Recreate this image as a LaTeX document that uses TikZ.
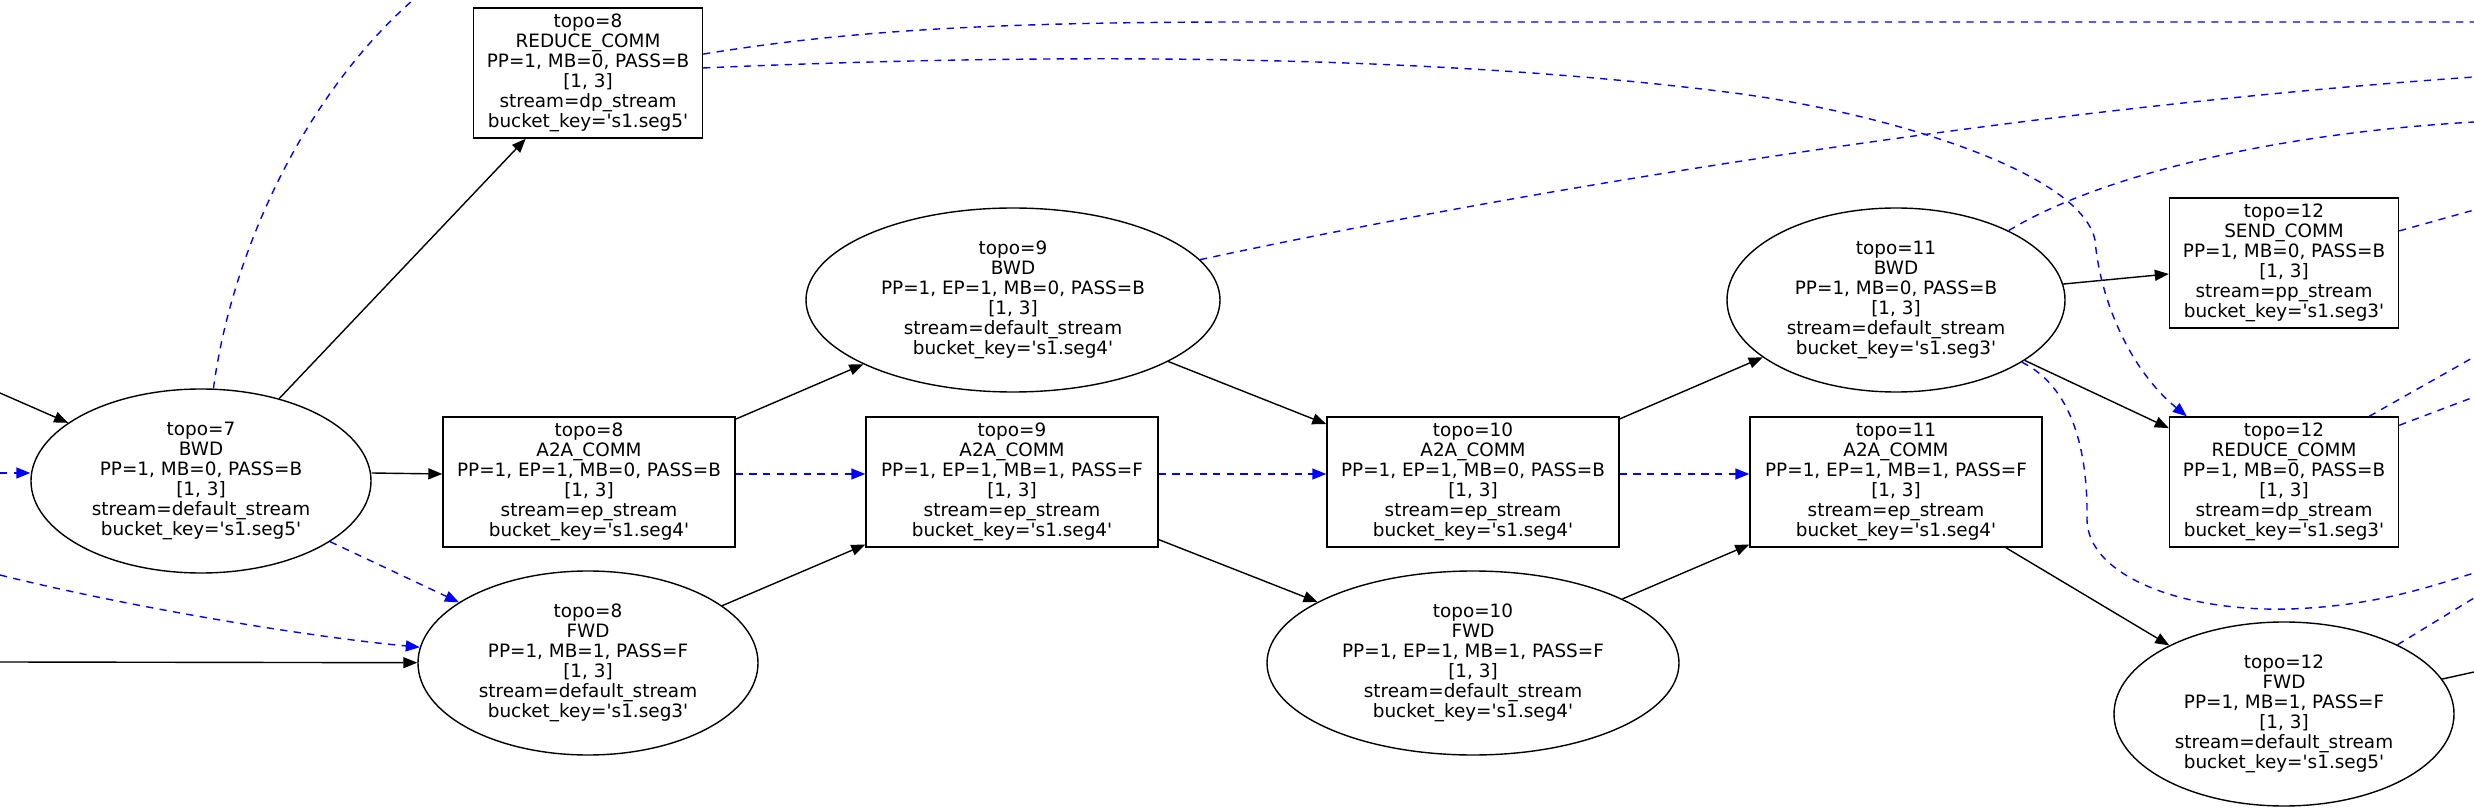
\documentclass[tikz,border=0pt]{standalone}
\usepackage{fontspec}
\setmainfont{DejaVu Sans}
\usetikzlibrary{arrows.meta,shapes.geometric}
\def\q{\textquotesingle}

\begin{document}
\begin{tikzpicture}[x=0.5pt,y=-0.5pt,
    every node/.style={font=\fontsize{9.2}{10}\selectfont,align=center,line width=0.7pt},
    op/.style={draw,ellipse,inner sep=0pt,minimum width=170pt,minimum height=92pt},
    comm/.style={draw,rectangle,inner sep=1pt,minimum width=146pt,minimum height=65pt},
    flow/.style={line width=0.7pt,-{Triangle[length=7pt,width=5.5pt]}},
    flowfree/.style={flow,-},
    dep/.style={flow,blue,dash pattern=on 3.6pt off 3.2pt},
    depfree/.style={dep,-}]
    \useasboundingbox (0,0) rectangle (2474,812);

    % nodes
    \node[op] (b7) at (201,481) {topo=7\\BWD\\PP=1, MB=0, PASS=B\\{[1, 3]}\\stream=default\_stream\\bucket\_key=\q s1.seg5\q};
    \node[comm,minimum width=114.5pt] (r8) at (588,73) {topo=8\\REDUCE\_COMM\\PP=1, MB=0, PASS=B\\{[1, 3]}\\stream=dp\_stream\\bucket\_key=\q s1.seg5\q};
    \node[comm] (a8) at (589,482) {topo=8\\A2A\_COMM\\PP=1, EP=1, MB=0, PASS=B\\{[1, 3]}\\stream=ep\_stream\\bucket\_key=\q s1.seg4\q};
    \node[op] (f8) at (588,663) {topo=8\\FWD\\PP=1, MB=1, PASS=F\\{[1, 3]}\\stream=default\_stream\\bucket\_key=\q s1.seg3\q};
    \node[op,minimum width=207pt] (b9) at (1013,300) {topo=9\\BWD\\PP=1, EP=1, MB=0, PASS=B\\{[1, 3]}\\stream=default\_stream\\bucket\_key=\q s1.seg4\q};
    \node[comm] (a9) at (1012,482) {topo=9\\A2A\_COMM\\PP=1, EP=1, MB=1, PASS=F\\{[1, 3]}\\stream=ep\_stream\\bucket\_key=\q s1.seg4\q};
    \node[comm] (a10) at (1473,482) {topo=10\\A2A\_COMM\\PP=1, EP=1, MB=0, PASS=B\\{[1, 3]}\\stream=ep\_stream\\bucket\_key=\q s1.seg4\q};
    \node[op,minimum width=206pt] (f10) at (1473,663) {topo=10\\FWD\\PP=1, EP=1, MB=1, PASS=F\\{[1, 3]}\\stream=default\_stream\\bucket\_key=\q s1.seg4\q};
    \node[op,minimum width=169pt] (b11) at (1896,300) {topo=11\\BWD\\PP=1, MB=0, PASS=B\\{[1, 3]}\\stream=default\_stream\\bucket\_key=\q s1.seg3\q};
    \node[comm] (a11) at (1896,482) {topo=11\\A2A\_COMM\\PP=1, EP=1, MB=1, PASS=F\\{[1, 3]}\\stream=ep\_stream\\bucket\_key=\q s1.seg4\q};
    \node[comm,minimum width=114.5pt] (s12) at (2284,263) {topo=12\\SEND\_COMM\\PP=1, MB=0, PASS=B\\{[1, 3]}\\stream=pp\_stream\\bucket\_key=\q s1.seg3\q};
    \node[comm,minimum width=114.5pt] (r12) at (2284,482) {topo=12\\REDUCE\_COMM\\PP=1, MB=0, PASS=B\\{[1, 3]}\\stream=dp\_stream\\bucket\_key=\q s1.seg3\q};
    \node[op] (f12) at (2284,714) {topo=12\\FWD\\PP=1, MB=1, PASS=F\\{[1, 3]}\\stream=default\_stream\\bucket\_key=\q s1.seg5\q};

    % loose ends at the border
    \coordinate (inA) at (0,393);
    \coordinate (inB) at (0,473);
    \coordinate (inC) at (0,575);
    \coordinate (inD) at (0,662);
    \coordinate (upA) at (413,0);
    \coordinate (outA) at (2474,22);
    \coordinate (outB) at (2474,77);
    \coordinate (outC) at (2474,122);
    \coordinate (outD) at (2474,573);
    \coordinate (outE) at (2474,210);
    \coordinate (outF) at (2474,357);
    \coordinate (outG) at (2474,397);
    \coordinate (outH) at (2474,598);
    \coordinate (outI) at (2474,672);

    % solid edges
    \draw[flow] (inA) -- (b7);
    \draw[flow] (inD) -- (f8);
    \draw[flow] (b7) -- (r8);
    \draw[flow] ([yshift=4pt]b7.east) -- ([yshift=4pt]a8.west);
    \draw[flow] (a8) -- (b9);
    \draw[flow] (f8) -- (a9);
    \draw[flow] (b9) -- (a10);
    \draw[flow] (a9) -- (f10);
    \draw[flow] (a10) -- (b11);
    \draw[flow] (f10) -- (a11);
    \draw[flow] (b11) -- (s12);
    \draw[flow] (b11) -- (r12);
    \draw[flow] (a11) -- (f12);
    \draw[flowfree] (f12) -- (outI);

    % dashed edges
    \draw[dep] (inB) -- ([yshift=4pt]b7.west);
    \draw[dep] (inC) .. controls (120,605) and (300,636) .. (f8);
    \draw[dep] (b7) -- (f8);
    \draw[depfree] (b7) .. controls (232,250) and (305,95) .. (upA);
    \draw[depfree] (r8) .. controls (850,30) and (1000,22) .. (1250,22) -- (outA);
    \draw[dep] (r8) .. controls (1000,55) and (1400,50) .. (1734,93)
        .. controls (1880,112) and (2080,170) .. (2095,240)
        .. controls (2100,300) and (2130,370) .. ([xshift=9pt]r12.north west);
    \draw[dep] ([yshift=4pt]a8.east) -- ([yshift=4pt]a9.west);
    \draw[dep] ([yshift=4pt]a9.east) -- ([yshift=4pt]a10.west);
    \draw[dep] ([yshift=4pt]a10.east) -- ([yshift=4pt]a11.west);
    \draw[depfree] (b9) .. controls (1500,195) and (2000,110) .. (outB);
    \draw[depfree] (b11) .. controls (2086,183) and (2250,135) .. (outC);
    \draw[depfree] (b11) .. controls (2072,387) and (2088,450) .. (2087,520)
        .. controls (2088,575) and (2180,612) .. (2290,609)
        .. controls (2370,606) and (2420,590) .. (outD);
    \draw[depfree] (s12) -- (outE);
    \draw[depfree] ([xshift=-15pt]r12.north east) -- (outF);
    \draw[depfree] ([yshift=-4.5pt]r12.north east) -- (outG);
    \draw[depfree] (f12) -- (outH);
\end{tikzpicture}
\end{document}
